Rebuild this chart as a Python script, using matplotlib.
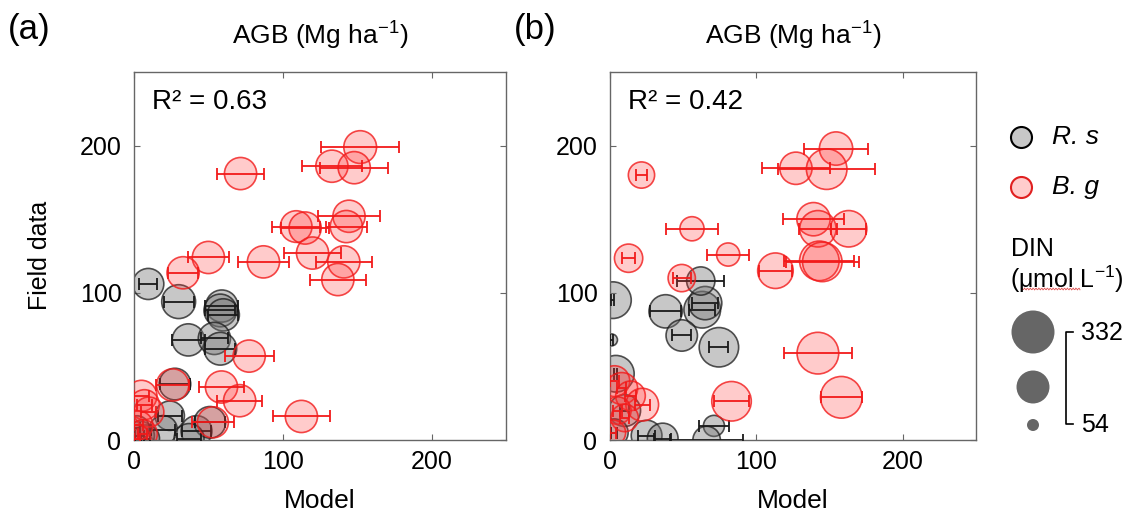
import matplotlib.pyplot as plt
import numpy as np

plt.rcParams['font.family'] = ['Liberation Sans', 'DejaVu Sans']
plt.rcParams['mathtext.default'] = 'regular'

# ---- panel (a) data ----
a_rs_x = [9.6, 30, 59, 58, 60, 36.5, 54, 58, 27.5, 24, 19.6, 42, 51, 37, 4, 8, 2]
a_rs_y = [106, 94, 91, 88, 85, 68, 69, 62, 38, 16.5, 7, 6, 12, 1, 3, 1, 8]
a_rs_err = [6, 10, 11, 10, 10, 11, 9, 10, 10, 8, 8, 10, 10, 8, 3, 3, 2]
a_rs_din = [225, 250, 235, 240, 235, 235, 235, 240, 230, 210, 200, 225, 230, 215, 205, 190, 170]

a_bg_x = [152, 133, 148, 71.6, 144.5, 142.7, 109, 115, 120, 141, 137, 87, 50, 33,
          77.4, 58.8, 71, 112.5, 26, 53, 5, 7, 10, 3, 6, 2]
a_bg_y = [199, 186, 185, 181, 152, 145, 145, 144, 127, 121, 109, 121, 124, 113.6,
          57, 36, 26.7, 16, 37.4, 12, 30, 24, 19, 10, 4, 1]
a_bg_err = [26, 20, 23, 16, 21, 14, 16, 16, 19, 19, 19, 17, 14, 10,
            16.5, 15, 15, 19, 11, 14, 5, 5, 5, 3, 3, 2]
a_bg_din = [240, 235, 235, 235, 235, 235, 230, 235, 235, 235, 235, 235, 235, 235,
            235, 235, 235, 235, 235, 225, 225, 215, 215, 205, 205, 190]

# ---- panel (b) data ----
b_rs_x = [2, 38, 63, 65, 62, 49, 74.4, 1, 71, 25, 36, 66, 4, 10, 3]
b_rs_y = [95, 87.4, 88.5, 93, 108, 71, 63, 68, 9.6, 3, 1, 0, 45, 20, 5]
b_rs_err = [1, 10.5, 9, 9, 16, 6.5, 6.5, 1, 10.5, 6, 6, 25, 1, 3, 2]
b_rs_din = [275, 245, 275, 245, 200, 228, 300, 54, 135, 222, 222, 193, 275, 232, 193]

b_bg_x = [154.4, 127, 148, 21.5, 139, 142, 163, 56, 80.7, 12.7, 143, 145, 113, 49,
          142, 83, 158, 3, 8, 14, 22, 5, 10, 2]
b_bg_y = [198, 184.6, 184, 180, 150, 143.5, 143.5, 143.5, 126, 123.5, 121.7, 121, 115, 110,
          59, 26.3, 29, 40, 35, 30, 24, 20, 15, 5]
b_bg_err = [22, 23, 33, 3.5, 21, 13, 12, 17.5, 14.5, 4.5, 24, 25, 11, 6,
            23, 12, 14, 3, 3, 4, 5, 3, 3, 2]
b_bg_din = [245, 236, 310, 182, 245, 273, 273, 163, 154, 200, 301, 301, 265, 191,
            320, 301, 320, 222, 232, 212, 240, 193, 193, 174]

r2_labels = ['R\u00b2 = 0.63', 'R\u00b2 = 0.42']
panel_labels = ['(a)', '(b)']
legend_din = [332, 242, 54]


def din_to_size(din):
    # marker diameter in pixels -> scatter size in points^2
    d_px = 12 + (np.asarray(din) - 54) * 31 / 278
    return (d_px * 0.72) ** 2


grey_face = (0.45, 0.45, 0.45, 0.4)
grey_edge = (0.1, 0.1, 0.1, 0.75)
red_face = (1.0, 0.2, 0.2, 0.25)
red_edge = (0.95, 0.1, 0.1, 0.8)

fig = plt.figure(figsize=(11.29, 5.17), dpi=100)
rects = [[134 / 1129, 77 / 517, 372 / 1129, 368 / 517],
         [610 / 1129, 77 / 517, 366 / 1129, 368 / 517]]

panels = [(a_rs_x, a_rs_y, a_rs_err, a_rs_din, a_bg_x, a_bg_y, a_bg_err, a_bg_din),
          (b_rs_x, b_rs_y, b_rs_err, b_rs_din, b_bg_x, b_bg_y, b_bg_err, b_bg_din)]

for i, (rx, ry, re, rd, bx, by, be, bd) in enumerate(panels):
    ax = fig.add_axes(rects[i])
    ax.scatter(rx, ry, s=din_to_size(rd), facecolor=grey_face, edgecolor=grey_edge,
               linewidth=1.2, zorder=2)
    ax.errorbar(rx, ry, xerr=re, fmt='none', ecolor=(0.1, 0.1, 0.1), elinewidth=1.3,
                capsize=4, capthick=1.3, zorder=3)
    ax.scatter(bx, by, s=din_to_size(bd), facecolor=red_face, edgecolor=red_edge,
               linewidth=1.2, zorder=4)
    ax.errorbar(bx, by, xerr=be, fmt='none', ecolor=(0.95, 0.1, 0.1), elinewidth=1.3,
                capsize=4, capthick=1.3, zorder=5)

    ax.set_xlim(0, 250)
    ax.set_ylim(0, 250)
    ax.set_xticks([0, 100, 200])
    ax.set_yticks([0, 100, 200])
    ax.tick_params(direction='in', top=True, right=True, length=4, labelsize=18,
                   color='#666666')
    ax.tick_params(axis='x', pad=7)
    ax.tick_params(axis='y', pad=9)
    for sp in ax.spines.values():
        sp.set_color('#666666')
        sp.set_linewidth(1.0)
    ax.text(0.048, 0.918, r2_labels[i], transform=ax.transAxes, fontsize=20,
            ha='left', va='center')
    cx = rects[i][0] + rects[i][2] / 2
    fig.text(cx, 1 - 36 / 517, r'AGB (Mg ha$^{-1}$)', fontsize=19, ha='center', va='center')
    fig.text(cx, 1 - 501 / 517, 'Model', fontsize=19, ha='center', va='center')

fig.text(40 / 1129, 1 - 255 / 517, 'Field data', fontsize=18, rotation=90,
         ha='center', va='center')
fig.text(8 / 1129, 1 - 30 / 517, panel_labels[0], fontsize=25, ha='left', va='center')
fig.text(514 / 1129, 1 - 30 / 517, panel_labels[1], fontsize=25, ha='left', va='center')

# ---- legend drawn in pixel coordinates ----
lax = fig.add_axes([0, 0, 1, 1])
lax.set_xlim(0, 1129)
lax.set_ylim(517, 0)
lax.axis('off')

lax.scatter([1021], [137], s=(21 * 0.72) ** 2, facecolor=(0.78, 0.78, 0.78), edgecolor='black',
            linewidth=1.5)
lax.text(1052, 137, 'R. s', fontsize=19, style='italic', va='center')
lax.scatter([1021], [187], s=(21 * 0.72) ** 2, facecolor=(1.0, 0.8, 0.8), edgecolor='#e02020',
            linewidth=1.5)
lax.text(1052, 187, 'B. g', fontsize=19, style='italic', va='center')

lax.text(1011, 249, 'DIN', fontsize=18, va='center')
lax.text(1010, 279, r'($\mu$mol L$^{-1}$)', fontsize=18, va='center')
wx = np.linspace(1022, 1080, 70)
lax.plot(wx, 289 + 1.0 * np.sin(wx * 2.2), color='#e05050', linewidth=0.6)

leg_y = [332, 387, 425]
leg_d = 12 + (np.array(legend_din) - 54) * 31 / 278
lax.scatter([1033] * 3, leg_y, s=(leg_d * 0.72) ** 2, facecolor='#666666', edgecolor='none')
lax.plot([1073, 1066, 1066, 1073], [332, 332, 424, 424], color='black', linewidth=1.2)
lax.text(1081, 333, str(legend_din[0]), fontsize=18, va='center')
lax.text(1081, 425, str(legend_din[2]), fontsize=18, va='center')

plt.savefig('out.png', dpi=100)
